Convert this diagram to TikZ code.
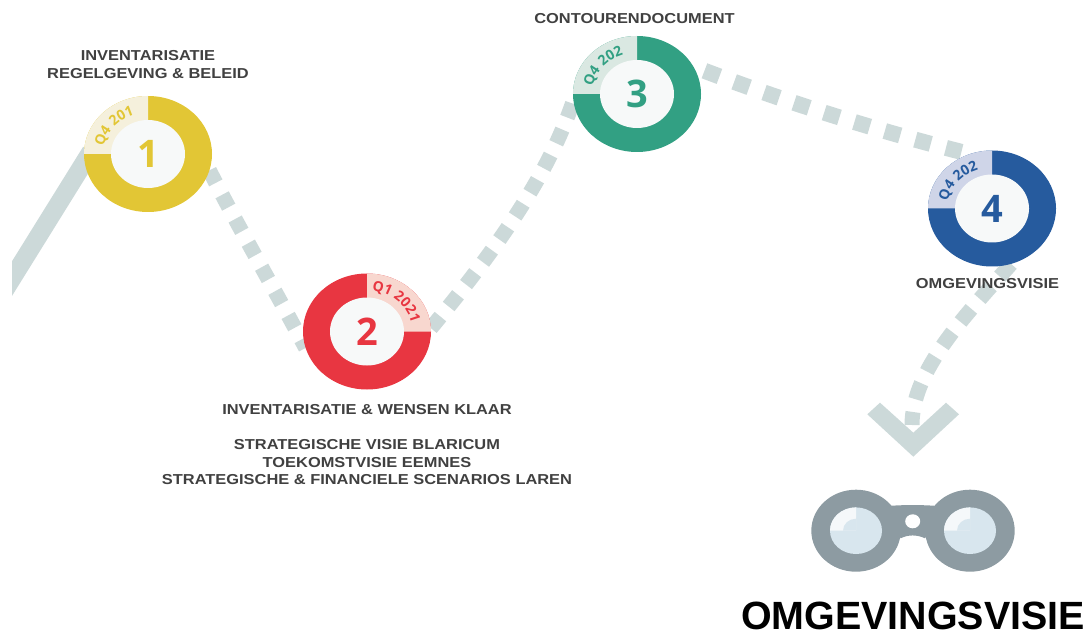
\documentclass[tikz,border=0pt]{standalone}
\usepackage{fontspec}
\usepackage{tikz}
\usetikzlibrary{shapes.geometric,decorations.text,backgrounds}
\setmainfont{Liberation Sans}
\newfontfamily\labelfont[FakeStretch=1.14]{Liberation Sans}
\newfontfamily\ringfont{Open Sans}
\definecolor{trailgrey}{HTML}{CCD9D9}
\definecolor{hubwhite}{HTML}{F7F9F9}
\definecolor{labelgrey}{HTML}{404040}
\definecolor{ringyellow}{HTML}{E2C635}
\definecolor{wedgeyellow}{HTML}{F5F0DC}
\definecolor{ringred}{HTML}{E83641}
\definecolor{wedgered}{HTML}{F8D7CF}
\definecolor{ringgreen}{HTML}{32A083}
\definecolor{wedgegreen}{HTML}{DAE8E2}
\definecolor{ringblue}{HTML}{265B9E}
\definecolor{wedgeblue}{HTML}{CFD5E8}
\definecolor{binogrey}{HTML}{8D9BA2}
\definecolor{lensblue}{HTML}{D8E6EE}
\definecolor{lensshine}{HTML}{F5F8FA}
\tikzset{
  ring/.style={draw=none,fill=#1,ellipse,inner sep=0pt,outer sep=0pt,minimum width=128pt,minimum height=116pt},
  hub/.style={ellipse,fill=hubwhite,inner sep=0pt,outer sep=0pt,minimum width=74pt,minimum height=68pt,text=#1,font=\ringfont\bfseries\fontsize{38}{38}\selectfont},
  steplabel/.style={text=labelgrey,align=center,inner sep=0pt,font=\labelfont\bfseries\fontsize{14.4}{17.5}\selectfont},
  trail/.style={draw=trailgrey,line width=15pt},
  bino/.style={ellipse,fill=binogrey,inner sep=0pt,outer sep=0pt,minimum width=89.4pt,minimum height=82pt},
  lens/.style={ellipse,fill=lensblue,inner sep=0pt,outer sep=0pt,minimum width=52pt,minimum height=46.6pt}
}
\begin{document}
\begin{tikzpicture}[x=1pt,y=1pt]
    \useasboundingbox (0,0) rectangle (1086,630);
    \coordinate (trailstart) at (-10,316);
    \coordinate (arrowtip) at (912,205);

    % milestones
    \node[ring=ringyellow] (ring1) at (148,476) {};
    \node[ring=ringred] (ring2) at (367,298.5) {};
    \node[ring=ringgreen] (ring3) at (637,536) {};
    \node[ring=ringblue] (ring4) at (992,421.5) {};

    \fill[wedgeyellow] (ring1.center) -- (ring1.north) arc[start angle=90,end angle=180,x radius=64,y radius=58] -- cycle;
    \fill[wedgered] (ring2.center) -- (ring2.north) arc[start angle=90,end angle=0,x radius=64,y radius=58] -- cycle;
    \fill[wedgegreen] (ring3.center) -- (ring3.north) arc[start angle=90,end angle=180,x radius=64,y radius=58] -- cycle;
    \fill[wedgeblue] (ring4.center) -- (ring4.north) arc[start angle=90,end angle=180,x radius=64,y radius=58] -- cycle;

    \node[hub=ringyellow] (hub1) at (ring1) {1};
    \node[hub=ringred] (hub2) at (ring2) {2};
    \node[hub=ringgreen] (hub3) at (ring3) {3};
    \node[hub=ringblue] (hub4) at (ring4) {4};

    \path[decorate,decoration={text along path,text align={fit to path},text={|\ringfont\bfseries\fontsize{14}{14}\selectfont\color{ringyellow}|Q4 2019}}]
        ([shift={(170:45 and 41)}]ring1.center) arc[start angle=170,end angle=103,x radius=45,y radius=41];
    \path[decorate,decoration={text along path,text align={fit to path},text={|\ringfont\bfseries\fontsize{14}{14}\selectfont\color{ringred}|Q1 2021}}]
        ([shift={(84:45 and 41)}]ring2.center) arc[start angle=84,end angle=14,x radius=45,y radius=41];
    \path[decorate,decoration={text along path,text align={fit to path},text={|\ringfont\bfseries\fontsize{14}{14}\selectfont\color{ringgreen}|Q4 2021}}]
        ([shift={(170:45 and 41)}]ring3.center) arc[start angle=170,end angle=103,x radius=45,y radius=41];
    \path[decorate,decoration={text along path,text align={fit to path},text={|\ringfont\bfseries\fontsize{14}{14}\selectfont\color{ringblue}|Q4 2023}}]
        ([shift={(170:45 and 41)}]ring4.center) arc[start angle=170,end angle=103,x radius=45,y radius=41];

    % trail behind the milestones
    \begin{pgfonlayer}{background}
        \begin{scope}
            \clip (12,0) rectangle (1086,630);
            \draw[trail,line width=18.3pt,shorten >=-12pt] (trailstart) -- (ring1.187);
        \end{scope}
        \draw[trail,dash pattern=on 14pt off 13.5pt] (ring1.-15) .. controls (240,400) and (275,340) .. (ring2.195);
        \draw[trail,dash pattern=on 15pt off 13pt] (ring2.3) .. controls (500,385) and (548,455) .. (ring3.186);
        \draw[trail,line width=16pt,dash pattern=on 16pt off 15.7pt,dash phase=19.8pt] (ring3.26) .. controls (785,528) and (878,499) .. (ring4.112);
        \draw[trail,dash pattern=on 17pt off 13pt] (ring4.-71) .. controls (965,314) and (912,260) .. (arrowtip);
        \fill[trailgrey] (867.3,215.7) -- (880,227.3) -- (913.3,197.3) -- (946,227.3) -- (959,215.7) -- (913.3,173.3) -- cycle;
    \end{pgfonlayer}

    % labels
    \node[steplabel] (label1) at (148,565.5) {INVENTARISATIE\\REGELGEVING \& BELEID};
    \node[steplabel] (label2) at (367,185) {INVENTARISATIE \& WENSEN KLAAR\\[17.5pt]STRATEGISCHE VISIE BLARICUM\\TOEKOMSTVISIE EEMNES\\STRATEGISCHE \& FINANCIELE SCENARIOS LAREN};
    \node[steplabel] (label3) at (634.5,611) {CONTOURENDOCUMENT};
    \node[steplabel] (label4) at (987.5,346) {OMGEVINGSVISIE};

    % binoculars
    \fill[binogrey] (880.7,123.3) .. controls (900,125.5) and (925,125.5) .. (945,123.3) -- (925,91.7) .. controls (917,95.5) and (908,95.5) .. (900.7,91.7) -- cycle;
    \node[bino] (binoleft) at (856,99.3) {};
    \node[bino] (binoright) at (970,99.3) {};
    \node[ellipse,fill=white,inner sep=0pt,minimum width=15pt,minimum height=14pt] (binohole) at (912.7,108.7) {};
    \node[lens] (lensleft) at (binoleft) {};
    \node[lens] (lensright) at (binoright) {};
    \fill[lensshine] (lensleft.center) -- (lensleft.west) arc[start angle=180,end angle=90,x radius=26,y radius=23.3] -- cycle;
    \fill[lensblue] (lensleft.center) ++(-13,0) arc[start angle=180,end angle=90,x radius=13,y radius=12] -- (lensleft.center) -- cycle;
    \fill[lensshine] (lensright.center) -- (lensright.west) arc[start angle=180,end angle=90,x radius=26,y radius=23.3] -- cycle;
    \fill[lensblue] (lensright.center) ++(-13,0) arc[start angle=180,end angle=90,x radius=13,y radius=12] -- (lensright.center) -- cycle;

    \node[text=black,inner sep=0pt,font=\bfseries\fontsize{39.4}{39.4}\selectfont] (title) at (913,14) {OMGEVINGSVISIE};
\end{tikzpicture}
\end{document}
